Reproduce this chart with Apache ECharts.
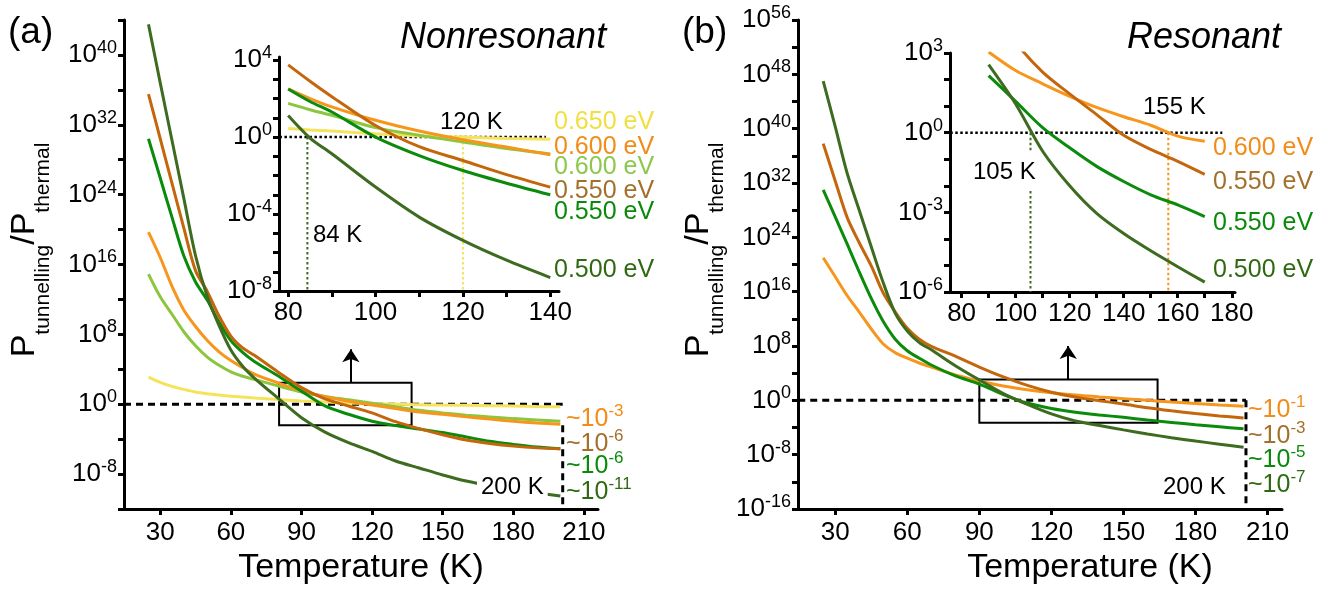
<!DOCTYPE html>
<html>
<head>
<meta charset="utf-8">
<script src="https://cdn.jsdelivr.net/npm/echarts@6/dist/echarts.min.js"></script>
<style>
html, body { margin: 0; padding: 0; background: #fff; }
#chart { width: 1329px; height: 593px; }
</style>
</head>
<body>
<div id="chart"></div>
<script>
// temperature grid of the main panels (K)
var tMain = [25, 30, 35, 40, 45, 50, 55, 60, 65, 70, 80, 90, 100, 110, 120, 130, 140, 150, 160, 170, 180, 190, 200];
// log10(Ptunnelling/Pthermal), panel (a) nonresonant
var a650  = [3.1, 2.5, 2.05, 1.7, 1.4, 1.2, 1.05, 0.92, 0.82, 0.72, 0.55, 0.38, 0.25, 0.15, 0.05, 0.0, -0.05, -0.1, -0.13, -0.17, -0.21, -0.26, -0.3];
var a600o = [19.7, 16.8, 13.5, 10.8, 8.9, 7.3, 6.0, 5.0, 4.2, 3.45, 2.45, 1.55, 0.85, 0.35, -0.1, -0.5, -0.9, -1.15, -1.45, -1.7, -1.95, -2.15, -2.3];
var a600g = [14.9, 12.3, 10.3, 8.3, 6.7, 5.4, 4.45, 3.7, 3.2, 2.85, 2.1, 1.4, 0.9, 0.5, 0.1, -0.3, -0.7, -1.0, -1.25, -1.45, -1.65, -1.8, -1.95];
var a550b = [35.5, 30.4, 25.3, 20.2, 15.3, 12.9, 10.1, 7.8, 6.45, 5.6, 3.7, 1.9, 0.6, -0.2, -1.0, -2.0, -2.8, -3.5, -4.1, -4.5, -4.8, -5.0, -5.1];
var a550g = [30.4, 25.9, 21.4, 17.0, 14.0, 11.9, 9.4, 7.3, 5.95, 4.9, 3.25, 1.5, -0.2, -1.15, -1.95, -2.45, -2.85, -3.25, -3.75, -4.25, -4.6, -4.9, -5.1];
var a500  = [43.5, 36.8, 30.2, 23.6, 17.0, 12.3, 9.0, 6.2, 4.35, 3.0, 0.7, -1.55, -3.2, -4.4, -5.4, -6.5, -7.3, -8.1, -8.8, -9.35, -9.8, -10.15, -10.5];
// panel (b) resonant
var b600  = [21.0, 18.2, 15.4, 13.0, 10.5, 8.3, 7.0, 6.2, 5.5, 4.9, 3.75, 2.85, 2.1, 1.55, 1.12, 0.77, 0.5, 0.25, 0.0, -0.25, -0.45, -0.68, -0.88];
var b550b = [37.8, 32.3, 26.9, 23.2, 19.8, 15.8, 13.0, 10.6, 9.0, 7.95, 6.5, 4.9, 3.45, 2.2, 1.2, 0.5, -0.05, -0.55, -1.1, -1.55, -1.95, -2.3, -2.6];
var b550g = [31.0, 27.0, 23.0, 18.9, 15.0, 11.6, 9.0, 7.3, 6.2, 5.2, 3.6, 2.4, 0.85, -0.4, -1.2, -1.75, -2.15, -2.5, -2.9, -3.25, -3.6, -3.9, -4.2];
var b500  = [47.0, 40.3, 33.4, 28.0, 22.6, 17.3, 12.8, 10.2, 8.5, 7.45, 5.1, 3.0, 1.0, -0.6, -2.0, -3.05, -3.7, -4.35, -4.95, -5.5, -6.0, -6.45, -6.9];

// insets
var tInsetA = [80, 85, 90, 100, 110, 120, 130, 140];
var ia650  = [0.44, 0.37, 0.31, 0.17, 0.06, 0.0, -0.07, -0.12];
var ia600o = [2.5, 2.0, 1.57, 0.87, 0.31, -0.14, -0.52, -0.92];
var ia600g = [1.75, 1.42, 1.13, 0.49, 0.09, -0.26, -0.6, -0.88];
var ia550b = [3.75, 2.9, 2.1, 0.6, -0.5, -1.22, -1.95, -2.6];
var ia550g = [2.5, 1.85, 1.3, 0.0, -0.96, -1.74, -2.4, -3.0];
var ia500  = [1.12, -0.05, -0.87, -2.6, -4.16, -5.37, -6.4, -7.3];

var tInsetB = [90, 100, 110, 120, 130, 140, 150, 160, 170];
var ib600  = [3.04, 2.34, 1.84, 1.37, 0.95, 0.6, 0.28, -0.13, -0.32];
var ib550b = [4.9, 3.4, 2.28, 1.46, 0.68, -0.1, -0.63, -1.08, -1.57];
var ib550g = [2.15, 1.18, 0.19, -0.57, -1.27, -1.84, -2.34, -2.72, -3.16];
var ib500  = [2.56, 1.08, -0.7, -2.0, -3.04, -3.8, -4.45, -5.05, -5.63];

// crossing temperatures and cut-off
var crossA = [84.4, 120];
var crossB = [105.5, 156.5];
var cutT = 201;

// ticks and labels
var mainXTicks = [30, 60, 90, 120, 150, 180, 210];
var mainAYTicks = [-12, -8, -4, 0, 4, 8, 12, 16, 20, 24, 28, 32, 36, 40, 44];
var mainAYLabels = [-8, 0, 8, 16, 24, 32, 40];
var mainBYTicks = [-16, -12, -8, -4, 0, 4, 8, 12, 16, 20, 24, 28, 32, 36, 40, 44, 48, 52, 56];
var mainBYLabels = [-16, -8, 0, 8, 16, 24, 32, 40, 48, 56];
var insAXTicks = [80, 90, 100, 110, 120, 130, 140];
var insAXLabels = [80, 100, 120, 140];
var insAYTicks = [-8, -7, -6, -5, -4, -3, -2, -1, 0, 1, 2, 3, 4];
var insAYLabels = [-8, -4, 0, 4];
var insBXTicks = [80, 90, 100, 110, 120, 130, 140, 150, 160, 170, 180];
var insBXLabels = [80, 100, 120, 140, 160, 180];
var insBYTicks = [-6, -5, -4, -3, -2, -1, 0, 1, 2, 3];
var insBYLabels = [-6, -3, 0, 3];

var FONT = '"Liberation Sans", Arial, Helvetica, sans-serif';
var C = {
    yel: '#f6e35c', ora: '#f7961d', lgr: '#8cc63f', brn: '#c4670c', grn: '#0b8b0b', dgr: '#3d6b1f',
    tYel: '#f2df3e', tOra: '#f28c19', tLgr: '#8cc84b', tBrn: '#a3702b', tGrn: '#0a8a0a', tDgr: '#2f6a12'
};

var myChart = echarts.init(document.getElementById('chart'));

function pairs(ts, vs) {
    return ts.map(function(t, i) { return [t, vs[i]]; });
}

function xAx(gi, min, max, ticks, labels, margin) {
    return {
        type: 'value', gridIndex: gi, min: min, max: max,
        axisLine: { onZero: false, lineStyle: { color: '#000', width: 3 } },
        axisTick: { customValues: ticks, length: 6, lineStyle: { color: '#000', width: 3 } },
        axisLabel: { customValues: labels, margin: margin, color: '#000', fontSize: 26, fontFamily: FONT },
        splitLine: { show: false }
    };
}

function yAx(gi, min, max, ticks, labels) {
    return {
        type: 'value', gridIndex: gi, min: min, max: max,
        axisLine: { onZero: false, lineStyle: { color: '#000', width: 3 } },
        axisTick: { customValues: ticks, length: 6, lineStyle: { color: '#000', width: 3 } },
        axisLabel: {
            customValues: labels, margin: 7,
            formatter: function(v) { return '{b|10}{s|' + v + '}'; },
            rich: {
                b: { fontSize: 26, lineHeight: 32, fontFamily: FONT, color: '#000' },
                s: { fontSize: 18, lineHeight: 18, verticalAlign: 'top', fontFamily: FONT, color: '#000' }
            }
        },
        splitLine: { show: false }
    };
}

function curve(gi, ts, vs, color) {
    return {
        type: 'line', xAxisIndex: gi, yAxisIndex: gi, data: pairs(ts, vs),
        symbol: 'none', smooth: 0.3, silent: true,
        lineStyle: { color: color, width: 3 }, z: 3
    };
}

function guide(gi, pts, color, width, dash, extra) {
    var s = {
        type: 'line', xAxisIndex: gi, yAxisIndex: gi, data: pts, symbol: 'none', silent: true,
        lineStyle: { color: color, width: width, type: dash }, z: 2
    };
    if (extra) for (var k in extra) s[k] = extra[k];
    return s;
}

function box(x0, y0, x1, y1) {
    return {
        silent: true,
        itemStyle: { color: 'rgba(0,0,0,0)', borderColor: '#000', borderWidth: 2 },
        data: [[{ coord: [x0, y0] }, { coord: [x1, y1] }]]
    };
}

function arrow(x, y0, y1) {
    return {
        silent: true, symbol: ['none', 'arrow'], symbolSize: 13,
        label: { show: false },
        lineStyle: { color: '#000', width: 2, type: 'solid' },
        data: [[{ coord: [x, y0] }, { coord: [x, y1] }]]
    };
}

var series = [
    // panel (a) main
    curve(0, tMain, a650, C.yel),
    curve(0, tMain, a600g, C.lgr),
    curve(0, tMain, a600o, C.ora),
    curve(0, tMain, a550g, C.grn),
    curve(0, tMain, a550b, C.brn),
    curve(0, tMain, a500, C.dgr),
    guide(0, [[14.6, 0], [cutT, 0]], '#000', 3, [7, 5], {
        markArea: box(80.5, 2.45, 136.8, -2.4),
        markLine: arrow(111, 2.45, 6.3)
    }),
    guide(0, [[cutT, a600o[a600o.length - 1] - 0.1], [cutT, -12]], '#000', 3, [7, 5]),
    // panel (a) inset
    curve(1, tInsetA, ia650, C.yel),
    curve(1, tInsetA, ia600g, C.lgr),
    curve(1, tInsetA, ia600o, C.ora),
    curve(1, tInsetA, ia550g, C.grn),
    curve(1, tInsetA, ia550b, C.brn),
    curve(1, tInsetA, ia500, C.dgr),
    guide(1, [[78, 0], [139, 0]], '#000', 2.5, [2.5, 2.5]),
    guide(1, [[crossA[0], 0], [crossA[0], -8]], C.dgr, 2, [2.5, 2.5]),
    guide(1, [[crossA[1], 0], [crossA[1], -8]], C.yel, 2, [2.5, 2.5]),
    // panel (b) main
    curve(2, tMain, b600, C.ora),
    curve(2, tMain, b550g, C.grn),
    curve(2, tMain, b550b, C.brn),
    curve(2, tMain, b500, C.dgr),
    guide(2, [[14.6, 0], [cutT, 0]], '#000', 3, [7, 5], {
        markArea: box(90, 3.05, 164.2, -3.3),
        markLine: arrow(127, 3.05, 8.0)
    }),
    guide(2, [[cutT, 0], [cutT, -16]], '#000', 3, [7, 5]),
    // panel (b) inset
    curve(3, tInsetB, ib600, C.ora),
    curve(3, tInsetB, ib550b, C.brn),
    curve(3, tInsetB, ib550g, C.grn),
    curve(3, tInsetB, ib500, C.dgr),
    guide(3, [[75.8, 0], [176.5, 0]], '#000', 2.5, [2.5, 2.5]),
    guide(3, [[crossB[0], 0], [crossB[0], -0.7]], C.dgr, 2, [2.5, 2.5]),
    guide(3, [[crossB[0], -2.2], [crossB[0], -6]], C.dgr, 2, [2.5, 2.5]),
    guide(3, [[crossB[1], 0], [crossB[1], -6]], C.ora, 2, [2.5, 2.5])
];

function txt(x, y, s, color, size, extra) {
    var st = { text: s, fill: color, fontSize: size, fontFamily: FONT, align: 'left', verticalAlign: 'middle' };
    if (extra) for (var k in extra) st[k] = extra[k];
    return { type: 'text', x: x, y: y, z: 100, silent: true, style: st };
}

function supTxt(x, y, base, exp, color) {
    return {
        type: 'text', x: x, y: y, z: 100, silent: true,
        style: {
            text: '{b|' + base + '}{s|' + exp + '}', align: 'left', verticalAlign: 'middle',
            rich: {
                b: { fontSize: 25, lineHeight: 32, fontFamily: FONT, fill: color },
                s: { fontSize: 17, lineHeight: 17, verticalAlign: 'top', fontFamily: FONT, fill: color }
            }
        }
    };
}

function yTitle(x, y) {
    return {
        type: 'text', x: x, y: y, rotation: Math.PI / 2, z: 100, silent: true,
        style: {
            text: '{p|P}{q|tunnelling}{p|/P}{q|thermal}', align: 'center', verticalAlign: 'middle',
            rich: {
                p: { fontSize: 34, lineHeight: 58, fontFamily: FONT, fill: '#000' },
                q: { fontSize: 21, lineHeight: 21, verticalAlign: 'bottom', fontFamily: FONT, fill: '#000' }
            }
        }
    };
}

var graphics = [
    txt(8, 33, '(a)', '#000', 37),
    txt(682, 33, '(b)', '#000', 37),
    txt(400, 38, 'Nonresonant', '#000', 36, { fontStyle: 'italic' }),
    txt(1127, 38, 'Resonant', '#000', 36, { fontStyle: 'italic' }),
    txt(361, 568, 'Temperature (K)', '#000', 34, { align: 'center' }),
    txt(1090, 568, 'Temperature (K)', '#000', 34, { align: 'center' }),
    yTitle(25, 250),
    yTitle(699, 250),
    // inset (a)
    txt(440, 122, '120 K', '#000', 24),
    txt(313, 235, '84 K', '#000', 24),
    txt(554, 122, '0.650 eV', C.tYel, 25),
    txt(554, 147, '0.600 eV', C.tOra, 25),
    txt(554, 167, '0.600 eV', C.tLgr, 25),
    txt(554, 191, '0.550 eV', C.tBrn, 25),
    txt(554, 212, '0.550 eV', C.tGrn, 25),
    txt(554, 270, '0.500 eV', C.tDgr, 25),
    // main (a)
    txt(477, 487, '200 K', '#000', 24, { backgroundColor: '#fff', padding: [0, 4, 0, 4] }),
    supTxt(566, 419, '~10', '-3', C.tOra),
    supTxt(566, 444, '~10', '-6', C.tBrn),
    supTxt(566, 466, '~10', '-6', C.tGrn),
    supTxt(566, 492, '~10', '-11', C.tDgr),
    // inset (b)
    txt(1143, 107, '155 K', '#000', 24),
    txt(973, 172, '105 K', '#000', 24),
    txt(1213, 148, '0.600 eV', C.tOra, 25),
    txt(1213, 182, '0.550 eV', C.tBrn, 25),
    txt(1213, 223, '0.550 eV', C.tGrn, 25),
    txt(1213, 270, '0.500 eV', C.tDgr, 25),
    // main (b)
    txt(1163, 487, '200 K', '#000', 24),
    supTxt(1248, 410, '~10', '-1', C.tOra),
    supTxt(1248, 436, '~10', '-3', C.tBrn),
    supTxt(1248, 460, '~10', '-5', C.tGrn),
    supTxt(1248, 485, '~10', '-7', C.tDgr)
];

var option = {
    animation: false,
    backgroundColor: '#fff',
    grid: [
        { left: 124, top: 20, width: 474, height: 489, outerBoundsMode: 'none' },
        { left: 279, top: 57, width: 280, height: 234, outerBoundsMode: 'none' },
        { left: 798, top: 20, width: 484, height: 489, outerBoundsMode: 'none' },
        { left: 950, top: 53, width: 285, height: 239, outerBoundsMode: 'none' }
    ],
    xAxis: [
        xAx(0, 14.6, 216, mainXTicks, mainXTicks, 11),
        xAx(1, 77.9, 142, insAXTicks, insAXLabels, 9),
        xAx(2, 14.5, 216, mainXTicks, mainXTicks, 11),
        xAx(3, 75.7, 181.2, insBXTicks, insBXLabels, 9)
    ],
    yAxis: [
        yAx(0, -12, 44, mainAYTicks, mainAYLabels),
        yAx(1, -8, 4.16, insAYTicks, insAYLabels),
        yAx(2, -16, 56, mainBYTicks, mainBYLabels),
        yAx(3, -6, 3, insBYTicks, insBYLabels)
    ],
    series: series,
    graphic: graphics
};

myChart.setOption(option);
</script>
</body>
</html>
